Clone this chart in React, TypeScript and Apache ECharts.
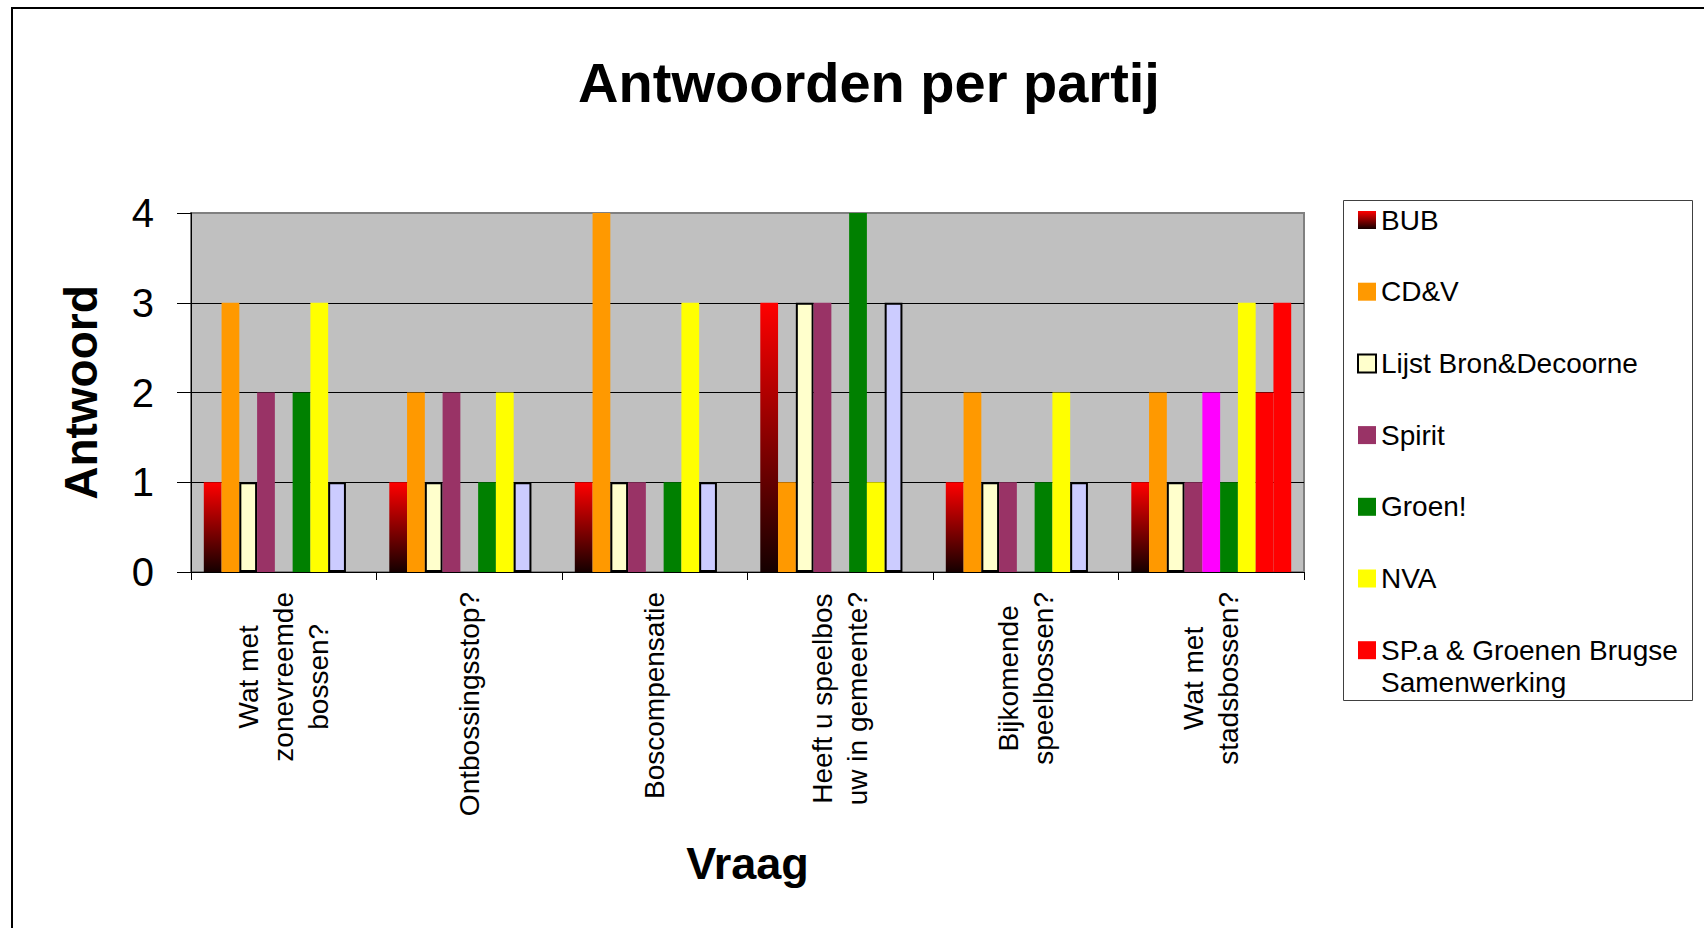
import React, { useEffect, useRef } from 'react';
import * as echarts from 'echarts';

const categories = [
  'Wat met\nzonevreemde\nbossen?',
  'Ontbossingsstop?',
  'Boscompensatie',
  'Heeft u speelbos\nuw in gemeente?',
  'Bijkomende\nspeelbossen?',
  'Wat met\nstadsbossen?',
];
const SPA = 'SP.a & Groenen Brugse Samenwerking';
const SPA_LINES = ['SP.a & Groenen Brugse', 'Samenwerking'];
const legendNames = ['BUB', 'CD&V', 'Lijst Bron&Decoorne', 'Spirit', 'Groen!', 'NVA', SPA];

const bub = [1, 1, 1, 3, 1, 1];
const cdv = [3, 2, 4, 1, 2, 2];
const lijst = [1, 1, 1, 3, 1, 1];
const spirit = [2, 2, 1, 3, 1, 1];
const reeks5 = [null, null, null, null, null, 2];
const groen = [2, 1, 1, 4, 1, 1];
const nva = [3, 2, 3, 1, 2, 3];
const reeks8 = [1, 1, 1, 3, 1, 2];
const spa = [null, null, null, null, null, 3];
const yTicks = [0, 1, 2, 3, 4];

const FONT = '"Liberation Sans", Arial, sans-serif';

export default function App() {
  const ref = useRef<HTMLDivElement>(null);
  useEffect(() => {
    if (!ref.current) return;
    const chart = echarts.init(ref.current, null, { renderer: 'svg' });
    const bubGrad = new echarts.graphic.LinearGradient(0, 0, 0, 1, [
      { offset: 0, color: '#FF0000' },
      { offset: 1, color: '#150000' },
    ]);
    const mk = (name: string, data: any[], itemStyle: any) => ({
      name,
      type: 'bar',
      data,
      barGap: '0%',
      barCategoryGap: '13.8%',
      itemStyle,
    });
    const option: any = {
      animation: false,
      backgroundColor: '#fff',
      textStyle: { fontFamily: FONT },
      title: {
        text: 'Antwoorden per partij',
        left: 864,
        textAlign: 'center',
        top: 49,
        textStyle: { fontFamily: FONT, fontSize: 56, fontWeight: 'bold', color: '#000', lineHeight: 56 },
      },
      grid: {
        left: 191,
        top: 213,
        right: 400,
        bottom: 356,
        show: true,
        backgroundColor: '#C0C0C0',
        borderColor: '#808080',
        borderWidth: 2,
        containLabel: false,
      },
      legend: {
        orient: 'vertical',
        left: 1357,
        top: 204,
        padding: 0,
        itemWidth: 18,
        itemHeight: 18,
        itemGap: 39.7,
        icon: 'rect',
        data: legendNames,
        formatter: (n: string) => (n === SPA ? SPA_LINES[0] : n),
        textStyle: { fontFamily: FONT, fontSize: 28, lineHeight: 32, color: '#000' },
      },
      xAxis: {
        type: 'category',
        data: categories,
        name: 'Vraag',
        nameLocation: 'middle',
        nameGap: 291,
        nameTextStyle: { fontFamily: FONT, fontSize: 45, fontWeight: 'bold', color: '#000', verticalAlign: 'middle' },
        axisLine: { show: true, lineStyle: { color: '#000', width: 1 } },
        axisTick: { show: true, length: 8, lineStyle: { color: '#000' } },
        axisLabel: {
          interval: 0,
          rotate: 90,
          margin: 20,
          color: '#000',
          formatter: (v: string) => v.split('\n').map((l) => `{c|${l}}`).join('\n'),
          rich: { c: { fontFamily: FONT, fontSize: 28, lineHeight: 35, align: 'center', color: '#000' } },
        },
        splitLine: { show: false },
      },
      yAxis: {
        type: 'value',
        min: yTicks[0],
        max: yTicks[yTicks.length - 1],
        interval: yTicks[1] - yTicks[0],
        name: 'Antwoord',
        nameLocation: 'middle',
        nameGap: 110,
        nameRotate: 90,
        nameTextStyle: { fontFamily: FONT, fontSize: 46, fontWeight: 'bold', color: '#000', verticalAlign: 'middle' },
        axisLine: { show: true, lineStyle: { color: '#000', width: 1 } },
        axisTick: { show: true, length: 14, lineStyle: { color: '#000' } },
        axisLabel: { margin: 37, fontFamily: FONT, fontSize: 40, color: '#000' },
        splitLine: { show: true, showMinLine: false, showMaxLine: false, lineStyle: { color: '#000', width: 1 } },
      },
      graphic: [
        {
          type: 'rect',
          shape: { x: 12, y: 8, width: 1800, height: 1000 },
          style: { fill: 'none', stroke: '#000', lineWidth: 2 },
          silent: true,
        },
        {
          type: 'rect',
          shape: { x: 1343.5, y: 200.5, width: 349, height: 500 },
          style: { fill: 'none', stroke: '#404040', lineWidth: 1 },
          silent: true,
        },
        {
          type: 'text',
          x: 1381,
          y: 682,
          silent: true,
          style: {
            text: SPA_LINES[1],
            font: `28px ${FONT}`,
            fill: '#000',
            align: 'left',
            verticalAlign: 'middle',
          },
        },
      ],
      series: [
        mk('BUB', bub, { color: bubGrad }),
        mk('CD&V', cdv, { color: '#FF9900' }),
        mk('Lijst Bron&Decoorne', lijst, { color: '#FFFFCC', borderColor: '#000', borderWidth: 2 }),
        mk('Spirit', spirit, { color: '#993366' }),
        mk('Reeks5', reeks5, { color: '#FF00FF' }),
        mk('Groen!', groen, { color: '#008000' }),
        mk('NVA', nva, { color: '#FFFF00' }),
        mk(
          'Reeks8',
          reeks8.map((v, i) =>
            i === reeks8.length - 1 ? { value: v, itemStyle: { color: '#FF0000', borderWidth: 0 } } : v
          ),
          { color: '#CCCCFF', borderColor: '#000', borderWidth: 2 }
        ),
        mk(SPA, spa, { color: '#FF0000' }),
      ],
    };
    chart.setOption(option);
    return () => chart.dispose();
  }, []);
  return (
    <div
      ref={ref}
      style={{ position: 'fixed', left: 0, top: 0, width: 1704, height: 928, background: '#fff' }}
    />
  );
}
